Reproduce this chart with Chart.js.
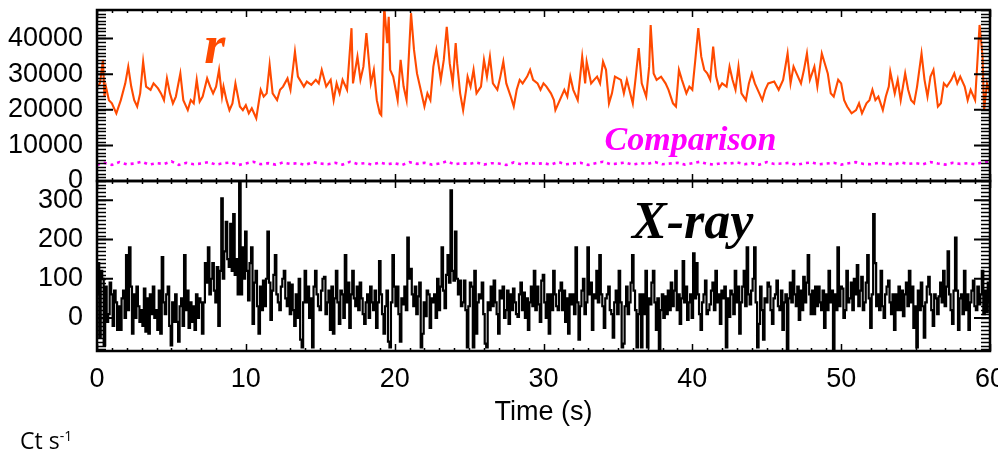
<!DOCTYPE html>
<html>
<head>
<meta charset="utf-8">
<script src="https://cdn.jsdelivr.net/npm/chart.js@4.4.1/dist/chart.umd.min.js"></script>
<style>
  html, body { margin: 0; padding: 0; background: #fff; }
  #wrap { position: relative; width: 998px; height: 455px; overflow: hidden; }
  #wrap canvas { position: absolute; left: 0; top: 0; }
  #unit { position: absolute; left: 20px; top: 424px; font-family: "Open Sans", sans-serif; font-size: 23px; line-height: normal; color: #000; }
  #unit sup { font-size: 14px; vertical-align: 8px; line-height: 0; }
</style>
</head>
<body>
<div id="wrap">
  <canvas id="top-chart" width="998" height="455"></canvas>
  <canvas id="xray-chart" width="998" height="455"></canvas>
  <div id="unit">Ct s<sup>-1</sup></div>
</div>
<script>
// r-band light curve (counts)
const rTimes = [
  0,0.2,0.4,0.5,0.6,0.8,1.0,1.3,1.6,1.9,
  2.1,2.3,2.5,2.7,2.9,3.1,3.3,3.6,3.8,4.1,
  4.3,4.5,4.7,4.9,5.1,5.3,5.6,5.8,6.1,6.3,
  6.5,6.7,6.9,7.1,7.4,7.6,7.8,8.0,8.2,8.4,
  8.5,8.7,8.9,9.1,9.3,9.6,9.8,10.0,10.2,10.4,
  10.7,11.0,11.2,11.4,11.6,11.8,12.1,12.3,12.5,12.8,
  13.0,13.3,13.5,13.9,14.1,14.4,14.7,14.9,15.1,15.4,
  15.7,15.9,16.1,16.3,16.5,16.8,17.1,17.2,17.5,17.7,
  17.9,18.1,18.4,18.6,18.8,19.0,19.1,19.3,19.5,19.6,
  19.7,19.9,20.2,20.4,20.6,20.8,21.1,21.3,21.5,21.7,
  22.0,22.2,22.4,22.6,22.8,23.1,23.3,23.5,23.7,23.9,
  24.1,24.2,24.4,24.6,24.8,24.9,25.1,25.3,25.5,25.8,
  26.0,26.2,26.4,26.6,26.9,27.1,27.3,27.5,27.8,28.0,
  28.2,28.4,28.6,28.9,29.1,29.3,29.6,29.8,30.0,30.2,
  30.5,30.7,30.8,31.0,31.4,31.6,31.8,32.0,32.3,32.6,
  32.8,32.9,33.2,33.4,33.6,33.8,34.0,34.2,34.4,34.6,
  34.8,35.2,35.4,35.6,36.0,36.2,36.4,36.6,36.9,37.1,
  37.2,37.4,37.6,37.9,38.2,38.4,38.7,38.9,39.1,39.3,
  39.6,39.8,40.0,40.2,40.4,40.6,40.8,41.0,41.2,41.4,
  41.6,41.8,42.0,42.3,42.5,42.7,42.9,43.1,43.3,43.6,
  43.8,44.0,44.2,44.5,44.7,44.9,45.1,45.5,45.8,46.1,
  46.4,46.6,46.8,47.0,47.3,47.5,47.7,47.9,48.2,48.4,
  48.7,48.9,49.1,49.3,49.5,49.8,50.0,50.2,50.4,50.7,
  51.0,51.2,51.4,51.7,51.9,52.1,52.3,52.5,52.8,53.0,
  53.2,53.3,53.6,53.8,54.0,54.3,54.5,54.7,54.9,55.1,
  55.4,55.6,55.8,56.0,56.2,56.5,56.7,56.9,57.1,57.4,
  57.6,57.8,58.0,58.3,58.5,58.7,59.0,59.3,59.5,59.6,
  59.8,60.0
];
const rCounts = [
  26500,27400,34000,23700,26500,22700,21800,19000,22700,27400,
  32100,26500,22700,20900,24600,33500,26500,25600,27400,26000,
  24600,22700,28800,24600,21800,23700,30200,22700,19900,22700,
  21800,28400,22300,23700,28800,26500,24600,26500,31200,23700,
  26500,22700,19900,21800,27400,20900,19900,21300,19000,20400,
  17600,25600,23700,24600,32600,24600,22700,25600,26500,28800,
  25600,36300,29300,26500,27900,27000,28400,27400,31200,26500,
  28400,22700,27400,24600,28400,25600,42900,27400,34900,28400,
  32100,41500,27400,31200,22700,19000,18500,49000,38700,46100,
  31200,29300,22700,34000,26500,22700,47100,36800,30200,26500,
  20900,24600,22700,32100,36800,28400,34000,43300,33000,27400,
  38700,33000,24600,19900,25600,29300,26500,31200,24600,26500,
  34000,29300,34900,27400,25600,29300,33500,27400,23700,20900,
  25600,28400,27400,29300,31200,28400,27400,25600,27400,26500,
  24600,22700,19900,21800,25600,23700,29300,25600,22700,34900,
  27400,33500,27400,28400,29300,27400,33500,31200,21800,24600,
  29300,28400,24600,28400,21800,29300,37300,27400,23700,32100,
  43800,30200,28400,29300,27400,25600,21800,20900,31200,28400,
  24600,26500,25600,34000,42900,34900,31200,30200,28400,37700,
  29300,26000,27400,26500,32100,28400,25600,32100,24600,22700,
  27400,30200,27400,24600,22700,25600,27400,27900,25600,28400,
  35800,27400,32100,30200,27400,31200,35800,28400,32100,26500,
  35800,33000,30200,24600,23700,28400,27400,22700,20900,19000,
  19900,21800,19000,21800,22700,25600,22700,23700,19900,23700,
  26500,30700,24600,28400,22700,30200,25600,22700,21800,26500,
  35800,28400,23700,29300,31200,20900,21800,27400,26500,28400,
  30200,27400,29300,26500,22700,25600,22700,43800,34900,19900,
  27400,24600
];

// comparison star (counts), every 0.5 s
const compTimes = [
  0,0.5,1,1.5,2,2.5,3,3.5,4,4.5,5,5.5,6,6.5,7,7.5,8,8.5,9,9.5,
  10,10.5,11,11.5,12,12.5,13,13.5,14,14.5,15,15.5,16,16.5,17,17.5,18,18.5,19,19.5,
  20,20.5,21,21.5,22,22.5,23,23.5,24,24.5,25,25.5,26,26.5,27,27.5,28,28.5,29,29.5,
  30,30.5,31,31.5,32,32.5,33,33.5,34,34.5,35,35.5,36,36.5,37,37.5,38,38.5,39,39.5,
  40,40.5,41,41.5,42,42.5,43,43.5,44,44.5,45,45.5,46,46.5,47,47.5,48,48.5,49,49.5,
  50,50.5,51,51.5,52,52.5,53,53.5,54,54.5,55,55.5,56,56.5,57,57.5,58,58.5,59,59.5,
  60
];
const compCounts = [
  4600,5100,4500,5300,4700,4900,5400,4600,5000,4800,5500,4500,5100,4700,4900,5300,4600,5000,5200,4500,
  4900,5400,4700,5000,4600,5200,4800,5000,4500,5300,4900,4700,5100,4600,5400,4800,5000,4600,5200,4700,
  5000,4500,5300,4800,5100,4600,4900,5500,4700,5000,4800,5200,4600,5000,4900,4500,5200,4700,5100,4800,
  5000,4600,5300,4700,4900,5100,4500,5000,5400,4700,4900,5200,4600,5000,4800,5300,4700,4900,5100,4600,
  5000,5400,4800,4600,5100,4900,5200,4700,5000,4600,5300,4800,4900,5100,4500,5000,5200,4700,4900,5100,
  4600,5000,5300,4800,4700,5100,4900,4600,5200,4800,5000,4700,5300,4900,4600,5100,4800,5000,4700,5200,
  5500
];

// X-ray rate (ct/s) in 0.1 s bins
const xTimes = [
  0,0.1,0.2,0.3,0.4,0.5,0.6,0.7,0.8,0.9,
  1,1.1,1.2,1.3,1.4,1.5,1.6,1.7,1.8,1.9,
  2,2.1,2.2,2.3,2.4,2.5,2.6,2.7,2.8,2.9,
  3,3.1,3.2,3.3,3.4,3.5,3.6,3.7,3.8,3.9,
  4,4.1,4.2,4.3,4.4,4.5,4.6,4.7,4.8,4.9,
  5,5.1,5.2,5.3,5.4,5.5,5.6,5.7,5.8,5.9,
  6,6.1,6.2,6.3,6.4,6.5,6.6,6.7,6.8,6.9,
  7,7.1,7.2,7.3,7.4,7.5,7.6,7.7,7.8,7.9,
  8,8.1,8.2,8.3,8.4,8.5,8.6,8.7,8.8,8.9,
  9,9.1,9.2,9.3,9.4,9.5,9.6,9.7,9.8,9.9,
  10,10.1,10.2,10.3,10.4,10.5,10.6,10.7,10.8,10.9,
  11,11.1,11.2,11.3,11.4,11.5,11.6,11.7,11.8,11.9,
  12,12.1,12.2,12.3,12.4,12.5,12.6,12.7,12.8,12.9,
  13,13.1,13.2,13.3,13.4,13.5,13.6,13.7,13.8,13.9,
  14,14.1,14.2,14.3,14.4,14.5,14.6,14.7,14.8,14.9,
  15,15.1,15.2,15.3,15.4,15.5,15.6,15.7,15.8,15.9,
  16,16.1,16.2,16.3,16.4,16.5,16.6,16.7,16.8,16.9,
  17,17.1,17.2,17.3,17.4,17.5,17.6,17.7,17.8,17.9,
  18,18.1,18.2,18.3,18.4,18.5,18.6,18.7,18.8,18.9,
  19,19.1,19.2,19.3,19.4,19.5,19.6,19.7,19.8,19.9,
  20,20.1,20.2,20.3,20.4,20.5,20.6,20.7,20.8,20.9,
  21,21.1,21.2,21.3,21.4,21.5,21.6,21.7,21.8,21.9,
  22,22.1,22.2,22.3,22.4,22.5,22.6,22.7,22.8,22.9,
  23,23.1,23.2,23.3,23.4,23.5,23.6,23.7,23.8,23.9,
  24,24.1,24.2,24.3,24.4,24.5,24.6,24.7,24.8,24.9,
  25,25.1,25.2,25.3,25.4,25.5,25.6,25.7,25.8,25.9,
  26,26.1,26.2,26.3,26.4,26.5,26.6,26.7,26.8,26.9,
  27,27.1,27.2,27.3,27.4,27.5,27.6,27.7,27.8,27.9,
  28,28.1,28.2,28.3,28.4,28.5,28.6,28.7,28.8,28.9,
  29,29.1,29.2,29.3,29.4,29.5,29.6,29.7,29.8,29.9,
  30,30.1,30.2,30.3,30.4,30.5,30.6,30.7,30.8,30.9,
  31,31.1,31.2,31.3,31.4,31.5,31.6,31.7,31.8,31.9,
  32,32.1,32.2,32.3,32.4,32.5,32.6,32.7,32.8,32.9,
  33,33.1,33.2,33.3,33.4,33.5,33.6,33.7,33.8,33.9,
  34,34.1,34.2,34.3,34.4,34.5,34.6,34.7,34.8,34.9,
  35,35.1,35.2,35.3,35.4,35.5,35.6,35.7,35.8,35.9,
  36,36.1,36.2,36.3,36.4,36.5,36.6,36.7,36.8,36.9,
  37,37.1,37.2,37.3,37.4,37.5,37.6,37.7,37.8,37.9,
  38,38.1,38.2,38.3,38.4,38.5,38.6,38.7,38.8,38.9,
  39,39.1,39.2,39.3,39.4,39.5,39.6,39.7,39.8,39.9,
  40,40.1,40.2,40.3,40.4,40.5,40.6,40.7,40.8,40.9,
  41,41.1,41.2,41.3,41.4,41.5,41.6,41.7,41.8,41.9,
  42,42.1,42.2,42.3,42.4,42.5,42.6,42.7,42.8,42.9,
  43,43.1,43.2,43.3,43.4,43.5,43.6,43.7,43.8,43.9,
  44,44.1,44.2,44.3,44.4,44.5,44.6,44.7,44.8,44.9,
  45,45.1,45.2,45.3,45.4,45.5,45.6,45.7,45.8,45.9,
  46,46.1,46.2,46.3,46.4,46.5,46.6,46.7,46.8,46.9,
  47,47.1,47.2,47.3,47.4,47.5,47.6,47.7,47.8,47.9,
  48,48.1,48.2,48.3,48.4,48.5,48.6,48.7,48.8,48.9,
  49,49.1,49.2,49.3,49.4,49.5,49.6,49.7,49.8,49.9,
  50,50.1,50.2,50.3,50.4,50.5,50.6,50.7,50.8,50.9,
  51,51.1,51.2,51.3,51.4,51.5,51.6,51.7,51.8,51.9,
  52,52.1,52.2,52.3,52.4,52.5,52.6,52.7,52.8,52.9,
  53,53.1,53.2,53.3,53.4,53.5,53.6,53.7,53.8,53.9,
  54,54.1,54.2,54.3,54.4,54.5,54.6,54.7,54.8,54.9,
  55,55.1,55.2,55.3,55.4,55.5,55.6,55.7,55.8,55.9,
  56,56.1,56.2,56.3,56.4,56.5,56.6,56.7,56.8,56.9,
  57,57.1,57.2,57.3,57.4,57.5,57.6,57.7,57.8,57.9,
  58,58.1,58.2,58.3,58.4,58.5,58.6,58.7,58.8,58.9,
  59,59.1,59.2,59.3,59.4,59.5,59.6,59.7,59.8,59.9,
  60
];
const xCounts = [
  60,140,-50,120,100,-70,80,-10,10,90,
  60,-20,70,40,-30,30,-30,50,70,0,
  160,20,180,80,-40,60,0,80,30,-10,
  20,-20,75,-35,50,-40,60,10,80,0,
  20,-30,70,-40,155,40,10,60,80,-20,
  -70,40,-10,60,-10,-60,30,50,-20,160,
  20,70,-25,40,-10,30,-30,60,0,50,
  40,-40,40,140,90,180,60,100,140,70,
  40,130,-20,120,305,100,170,245,150,130,
  240,120,265,110,150,60,345,60,180,100,
  220,120,45,140,180,-15,90,120,30,-40,
  80,20,95,30,100,220,90,-5,70,110,
  160,60,40,20,80,100,120,50,30,90,
  10,85,20,-20,60,0,100,-55,-75,40,
  120,40,80,0,50,-75,80,120,60,30,
  20,70,100,105,10,40,70,-30,80,-40,
  50,120,40,-15,70,60,0,160,40,90,
  -25,60,120,50,30,80,20,90,50,10,
  -15,40,60,0,80,40,20,70,-25,40,
  145,60,10,-40,30,70,-60,-75,40,160,
  80,30,80,10,-60,50,35,80,20,205,
  100,125,60,30,80,10,55,90,-75,-40,
  40,5,70,60,-25,50,40,60,0,100,
  20,80,180,70,25,110,160,90,325,120,
  95,220,100,60,95,30,40,95,20,-75,
  30,90,80,-75,120,-40,40,60,50,90,
  10,-65,-75,40,20,80,30,95,40,10,
  -40,70,50,80,0,20,70,-15,60,20,
  75,40,10,3,60,90,20,65,0,50,
  -30,40,80,30,120,20,80,35,-10,95,
  110,40,0,60,-40,60,20,120,60,30,
  20,70,90,20,70,-10,50,-40,60,35,
  60,10,180,40,-55,30,70,100,10,40,
  180,60,90,-30,60,50,120,40,160,60,
  30,-25,50,60,80,20,10,-50,40,70,
  10,120,40,-75,-65,30,80,10,40,90,
  160,70,20,-75,10,60,-75,60,10,120,
  -75,50,35,90,120,40,-30,50,-90,20,
  60,0,55,10,70,20,90,30,70,120,
  20,60,-15,50,145,40,80,-5,40,60,
  0,165,50,140,60,10,-30,40,60,95,
  10,20,35,70,90,20,120,40,60,-15,
  70,50,80,-75,50,3,70,60,10,120,
  40,80,-40,40,80,120,30,180,60,35,
  70,100,180,40,-75,-15,80,20,-55,50,
  40,90,80,20,-15,50,60,95,30,20,
  70,-30,40,60,-90,50,90,40,120,60,
  30,80,-5,70,20,105,40,90,160,60,
  10,70,10,80,30,80,40,20,70,-25,
  60,20,120,40,70,-90,60,20,180,30,
  80,75,0,20,120,40,50,90,20,100,
  60,135,30,70,105,20,40,90,160,50,
  -25,60,265,140,30,60,20,120,30,0,
  60,80,95,40,10,60,-30,60,20,80,
  20,70,5,60,90,30,120,40,80,-25,
  30,-75,70,20,90,30,-50,40,80,105,
  60,20,-20,60,50,10,55,90,40,120,
  30,80,170,60,20,-15,70,205,70,-30,
  50,60,10,120,20,60,-30,40,70,95,
  30,20,80,35,60,120,10,70,15,90,
  40
];

// tick labels
const timeTicks = [0, 10, 20, 30, 40, 50, 60];
const rTicks = [0, 10000, 20000, 30000, 40000];
const xrayTicks = [0, 100, 200, 300];

const toPoints = (ts, vs) => ts.map((t, i) => ({ x: t, y: vs[i] }));

// box, inward ticks and the dense minor comb on both y sides
const framePlugin = {
  id: 'frame',
  afterDatasetsDraw(chart, args, opts) {
    const { ctx, chartArea: a } = chart;
    const xs = chart.scales.x, ys = chart.scales.y;
    ctx.save();
    ctx.strokeStyle = '#000';
    ctx.beginPath();
    ctx.lineWidth = 1.3;
    for (let v = Math.ceil(ys.min / opts.comb) * opts.comb; v <= ys.max; v += opts.comb) {
      const py = Math.round(ys.getPixelForValue(v)) + 0.5;
      ctx.moveTo(a.left, py); ctx.lineTo(a.left + 9, py);
      ctx.moveTo(a.right - 9, py); ctx.lineTo(a.right, py);
    }
    ctx.stroke();
    ctx.beginPath();
    ctx.lineWidth = 2;
    ys.ticks.forEach(t => {
      const py = ys.getPixelForValue(t.value);
      ctx.moveTo(a.left, py); ctx.lineTo(a.left + 16, py);
      ctx.moveTo(a.right - 16, py); ctx.lineTo(a.right, py);
    });
    ctx.stroke();
    ctx.beginPath();
    ctx.lineWidth = 1.5;
    for (let t = xs.min; t <= xs.max; t++) {
      const px = Math.round(xs.getPixelForValue(t)) + 0.5;
      const len = t % 10 === 0 ? 7 : 3;
      ctx.moveTo(px, a.top); ctx.lineTo(px, a.top + len);
      ctx.moveTo(px, a.bottom); ctx.lineTo(px, a.bottom - len);
    }
    ctx.stroke();
    ctx.lineWidth = 2.5;
    ctx.strokeRect(a.left, a.top, a.right - a.left, a.bottom - a.top);
    ctx.restore();
  }
};

// in-panel captions placed in data coordinates
const notesPlugin = {
  id: 'notes',
  afterDatasetsDraw(chart, args, opts) {
    const { ctx } = chart;
    const xs = chart.scales.x, ys = chart.scales.y;
    ctx.save();
    ctx.textAlign = 'left';
    ctx.textBaseline = 'alphabetic';
    opts.items.forEach(it => {
      ctx.font = it.font;
      ctx.fillStyle = it.color;
      ctx.fillText(it.text, xs.getPixelForValue(it.x), ys.getPixelForValue(it.y));
    });
    ctx.restore();
  }
};

const tickFont = { family: '"Liberation Sans", Arial, sans-serif', size: 27 };
const serif = '"Liberation Serif", "Times New Roman", serif';

function yAxis(min, max, tickValues) {
  return {
    type: 'linear', min: min, max: max,
    afterBuildTicks: s => { s.ticks = tickValues.map(v => ({ value: v })); },
    afterFit: s => { s.width = 97; s.paddingTop = 0; s.paddingBottom = 0; },
    ticks: { padding: 14, color: '#000', font: tickFont, autoSkip: false, callback: v => String(v) },
    grid: { display: false, drawTicks: false },
    border: { display: false }
  };
}

new Chart(document.querySelector('#top-chart'), {
  type: 'line',
  data: {
    datasets: [{
      label: 'r',
      data: toPoints(rTimes, rCounts),
      borderColor: '#ff4a00',
      borderWidth: 2.1,
      pointRadius: 0,
      tension: 0
    }, {
      label: 'Comparison',
      data: toPoints(compTimes, compCounts),
      borderColor: '#ff00ff',
      borderWidth: 2.6,
      borderDash: [3, 4],
      pointRadius: 0,
      tension: 0
    }]
  },
  options: {
    responsive: false,
    animation: false,
    events: [],
    layout: { padding: { left: 0, right: 8, top: 10, bottom: 274 } },
    plugins: {
      legend: { display: false },
      tooltip: { enabled: false },
      frame: { comb: 1000 },
      notes: { items: [
        { text: 'r', x: 7.2, y: 33100, color: '#ff4a00', font: 'bold italic 54px ' + serif },
        { text: 'Comparison', x: 34.1, y: 8700, color: '#ff00ff', font: 'bold italic 34px ' + serif }
      ] }
    },
    scales: {
      x: { type: 'linear', min: 0, max: 60, display: false },
      y: yAxis(0, 48000, rTicks)
    }
  },
  plugins: [framePlugin, notesPlugin]
});

new Chart(document.querySelector('#xray-chart'), {
  type: 'line',
  data: {
    datasets: [{
      label: 'X-ray',
      data: toPoints(xTimes, xCounts),
      borderColor: '#000',
      borderWidth: 2.2,
      stepped: 'middle',
      pointRadius: 0
    }]
  },
  options: {
    responsive: false,
    animation: false,
    events: [],
    layout: { padding: { left: 0, right: 8, top: 181, bottom: 0 } },
    plugins: {
      legend: { display: false },
      tooltip: { enabled: false },
      frame: { comb: 10 },
      notes: { items: [
        { text: 'X-ray', x: 35.95, y: 204, color: '#000', font: 'bold italic 52px ' + serif }
      ] }
    },
    scales: {
      x: {
        type: 'linear', min: 0, max: 60,
        afterBuildTicks: s => { s.ticks = timeTicks.map(v => ({ value: v })); },
        afterFit: s => { s.height = 104; s.paddingLeft = 0; s.paddingRight = 0; },
        ticks: { padding: 12, color: '#000', font: tickFont, maxRotation: 0, autoSkip: false },
        grid: { display: false, drawTicks: false },
        border: { display: false },
        title: {
          display: true, text: 'Time (s)', color: '#000',
          font: { family: '"Liberation Sans", Arial, sans-serif', size: 27 },
          padding: { top: 0, bottom: 26 }
        }
      },
      y: yAxis(-84, 349, xrayTicks)
    }
  },
  plugins: [framePlugin, notesPlugin]
});
</script>
</body>
</html>
